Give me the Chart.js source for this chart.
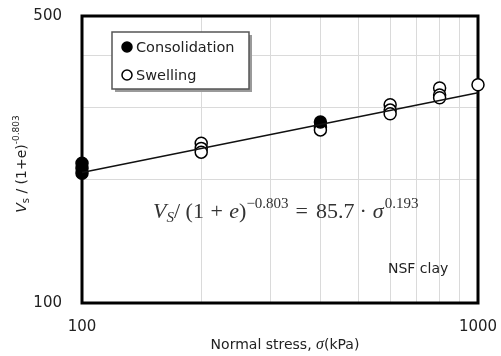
<!DOCTYPE html>
<html>
<head>
<meta charset="utf-8">
<script src="https://cdn.jsdelivr.net/npm/chart.js@4.4.1/dist/chart.umd.min.js"></script>
<style>
  html, body { margin: 0; padding: 0; background: #fff; }
  #wrap { width: 501px; height: 356px; }
</style>
</head>
<body>
<div id="wrap"><canvas id="vsChart"></canvas></div>
<script>
// values
var consStress = [100, 100, 100, 400];
var consVs = [219, 213, 207, 276];
var swellStress = [200, 200, 200, 400, 400, 600, 600, 600, 800, 800, 800, 1000];
var swellVs = [245, 238, 233, 268, 264, 304, 295, 289, 334, 321, 316, 340];
var fitStress = [100, 1000];
var fitVs = [208, 325];
var xGridValues = [100, 200, 300, 400, 500, 600, 700, 800, 900, 1000];
var yGridValues = [100, 200, 300, 400, 500];
var xTickLabels = [100, 1000];
var yTickLabels = [100, 500];

function toPoints(xs, ys) {
    return xs.map((x, i) => ({ x: x, y: ys[i] }));
}

var SANS = '"DejaVu Sans", Verdana, sans-serif';
var SERIF = '"Liberation Serif", "DejaVu Serif", serif';

// draw a row of text pieces (for sub/superscripts), returns width
function drawRuns(ctx, runs, x, y) {
    var cx = x;
    runs.forEach((r) => {
        ctx.font = r.font;
        ctx.fillText(r.t, cx, y + (r.dy || 0));
        cx += ctx.measureText(r.t).width + (r.gap || 0);
    });
    return cx - x;
}
function runsWidth(ctx, runs) {
    var w = 0;
    runs.forEach((r) => {
        ctx.font = r.font;
        w += ctx.measureText(r.t).width + (r.gap || 0);
    });
    return w;
}

// tick padding would otherwise grow the outer margins
function noScalePadding(s) {
    s.paddingTop = 0;
    s.paddingBottom = 0;
    s.paddingLeft = 0;
    s.paddingRight = 0;
}

var decorPlugin = {
    id: 'decor',
    beforeDatasetsDraw(chart) {
        const ctx = chart.ctx, a = chart.chartArea;
        ctx.save();
        ctx.strokeStyle = '#000';
        ctx.lineWidth = 3;
        ctx.strokeRect(a.left, a.top, a.right - a.left, a.bottom - a.top);
        ctx.restore();
    },
    afterDraw(chart) {
        const ctx = chart.ctx, a = chart.chartArea;
        ctx.save();
        ctx.fillStyle = '#222';
        ctx.textBaseline = 'alphabetic';

        // legend box
        var lx = a.left + 30, ly = a.top + 16, lw = 137, lh = 57;
        ctx.fillStyle = '#9a9a9a';
        ctx.fillRect(lx + 3, ly + 3, lw, lh);
        ctx.fillStyle = '#fff';
        ctx.fillRect(lx, ly, lw, lh);
        ctx.strokeStyle = '#555';
        ctx.lineWidth = 1.5;
        ctx.strokeRect(lx, ly, lw, lh);
        var items = chart.data.datasets.filter(d => d.showInLegend);
        items.forEach((d, i) => {
            var cy = ly + 15 + i * 28;
            ctx.beginPath();
            ctx.arc(lx + 15, cy, 5, 0, Math.PI * 2);
            ctx.fillStyle = d.backgroundColor;
            ctx.fill();
            ctx.lineWidth = 1.5;
            ctx.strokeStyle = '#000';
            ctx.stroke();
            ctx.fillStyle = '#222';
            ctx.font = '14.5px ' + SANS;
            ctx.textBaseline = 'middle';
            ctx.fillText(d.label, lx + 24, cy + 1);
        });
        ctx.textBaseline = 'alphabetic';

        // fitted equation
        ctx.fillStyle = '#333';
        var eq = [
            { t: 'V', font: 'italic 22px ' + SERIF },
            { t: 'S', font: 'italic 15px ' + SERIF, dy: 4 },
            { t: '/ (1 ', font: '22px ' + SERIF, gap: 1 },
            { t: '+ ', font: '22px ' + SERIF, gap: 1 },
            { t: 'e', font: 'italic 22px ' + SERIF },
            { t: ')', font: '22px ' + SERIF },
            { t: '\u22120.803', font: '15px ' + SERIF, dy: -10, gap: 7 },
            { t: '=', font: '22px ' + SERIF, gap: 8 },
            { t: '85.7', font: '22px ' + SERIF, gap: 5 },
            { t: '\u00B7', font: '22px ' + SERIF, gap: 6 },
            { t: '\u03C3', font: 'italic 22px ' + SERIF, gap: 1 },
            { t: '0.193', font: '15px ' + SERIF, dy: -10 }
        ];
        drawRuns(ctx, eq, 153, 218);

        // site label
        ctx.fillStyle = '#222';
        ctx.font = '14px ' + SANS;
        ctx.fillText('NSF clay', 388, 273);

        // x axis title
        var xt = [
            { t: 'Normal stress, ', font: '14px ' + SANS },
            { t: '\u03C3', font: 'italic 16px ' + SERIF },
            { t: '(kPa)', font: '14px ' + SANS }
        ];
        var w = runsWidth(ctx, xt);
        drawRuns(ctx, xt, 285 - w / 2, 349);

        // y axis title
        var yt = [
            { t: 'V', font: 'italic 14px ' + SANS },
            { t: 's', font: '10px ' + SANS, dy: 3 },
            { t: ' / (1+e)', font: '14px ' + SANS },
            { t: '-0.803', font: '9px ' + SANS, dy: -7 }
        ];
        ctx.translate(26, 164);
        ctx.rotate(-Math.PI / 2);
        w = runsWidth(ctx, yt);
        drawRuns(ctx, yt, -w / 2, 0);
        ctx.restore();
    }
};

var ctx = document.getElementById('vsChart');
new Chart(ctx, {
    type: 'scatter',
    data: {
        datasets: [
            {
                label: 'Fit',
                type: 'line',
                data: toPoints(fitStress, fitVs),
                borderColor: '#111',
                borderWidth: 1.5,
                pointRadius: 0,
                fill: false,
                clip: false
            },
            {
                label: 'Consolidation',
                showInLegend: true,
                data: toPoints(consStress, consVs),
                backgroundColor: '#000',
                borderColor: '#000',
                borderWidth: 1.5,
                pointRadius: 6,
                clip: false
            },
            {
                label: 'Swelling',
                showInLegend: true,
                data: toPoints(swellStress, swellVs),
                backgroundColor: '#fff',
                borderColor: '#000',
                borderWidth: 1.5,
                pointRadius: 6,
                clip: false
            }
        ]
    },
    options: {
        responsive: true,
        maintainAspectRatio: false,
        animation: false,
        layout: { autoPadding: false, padding: { left: 0, top: 16, right: 23, bottom: 0 } },
        scales: {
            x: {
                type: 'logarithmic',
                min: 100,
                max: 1000,
                afterBuildTicks: (s) => { s.ticks = xGridValues.map(v => ({ value: v })); },
                afterFit: (s) => { s.height = 53; noScalePadding(s); },
                border: { display: false },
                grid: { color: '#dadada', lineWidth: 1, drawTicks: false },
                ticks: {
                    autoSkip: false,
                    maxRotation: 0,
                    padding: 15,
                    color: '#222',
                    font: { family: SANS, size: 15 },
                    callback: (v) => xTickLabels.includes(v) ? String(v) : ''
                }
            },
            y: {
                type: 'logarithmic',
                min: 100,
                max: 500,
                afterBuildTicks: (s) => { s.ticks = yGridValues.map(v => ({ value: v })); },
                afterFit: (s) => { s.width = 82; noScalePadding(s); },
                border: { display: false },
                grid: { color: '#dadada', lineWidth: 1, drawTicks: false },
                ticks: {
                    autoSkip: false,
                    padding: 20,
                    color: '#222',
                    font: { family: SANS, size: 15 },
                    callback: (v) => yTickLabels.includes(v) ? String(v) : ''
                }
            }
        },
        plugins: {
            legend: { display: false },
            tooltip: { enabled: false }
        }
    },
    plugins: [decorPlugin]
});
</script>
</body>
</html>
